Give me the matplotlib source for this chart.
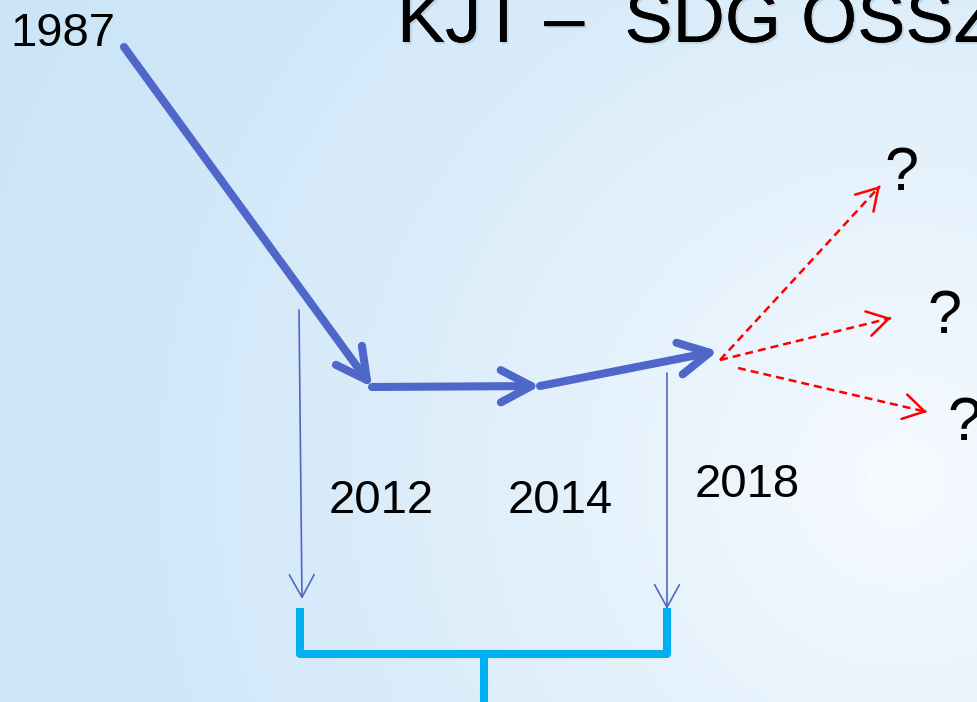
import numpy as np
import matplotlib.pyplot as plt
import matplotlib.patches as patches
import matplotlib.patheffects as pe

W, H = 977, 702

TITLE = "KJT –  SDG OSSZEFÜGGÉSEK"
START_YEAR = "1987"
YEARS = ["2012", "2014", "2018"]
OUTCOMES = ["?", "?", "?"]

# timeline path (pixel coords, y down)
MAIN_PATH = [(124, 47), (372, 387), (540, 386), (718, 351)]
YEAR_POS = [(329, 513), (508, 513), (695, 497)]

# thin feeder arrows and the bracket below them
FEED_ARROWS = [((299, 310), (302, 599)), ((667, 373), (667, 609))]
BRACKET_X = (300, 667)
BRACKET_TOP, BRACKET_Y = 608, 654
STEM_X = 484

# dashed "future" branches
BRANCH_START = [(720, 360), (720, 360), (738, 368)]
BRANCH_END = [(880, 186), (891, 318), (927, 412)]
QMARK_POS = [(901, 190), (944, 333), (964, 440)]

BLUE = "#4e67c8"
CYAN = "#00b0f0"
RED = "#ff0000"


def background(ax):
  yy, xx = np.mgrid[0:H, 0:W]
  d = np.hypot(xx - 900, yy - 480)
  t = np.clip(1 - d / 950, 0, 1) ** 1.3
  c0 = np.array([0.80, 0.898, 0.972])
  c1 = np.array([0.965, 0.982, 0.998])
  img = c0[None, None, :] * (1 - t[..., None]) + c1[None, None, :] * t[..., None]
  ax.imshow(img, extent=[0, W, H, 0], zorder=0, interpolation="bilinear")
  ax.add_patch(patches.Circle((888, 470), 22, fc="white", ec="none", alpha=0.35, zorder=1))


def arrow(ax, a, b, color, lw, hl, hw, ms=20, ls="-"):
  style = "->,head_length=%g,head_width=%g" % (hl, hw)
  p = patches.FancyArrowPatch(
    a, b, arrowstyle=style, mutation_scale=ms, color=color, lw=lw,
    shrinkA=0, shrinkB=0, capstyle="round", joinstyle="round", ls=ls, zorder=4,
  )
  ax.add_patch(p)


def dashed_arrow(ax, a, b, color):
  ax.plot([a[0], b[0]], [a[1], b[1]], color=color, lw=1.8,
          ls=(0, (3.2, 2.0)), zorder=4)
  v = np.array(b, float) - np.array(a, float)
  v /= np.hypot(*v)
  tail = (b[0] - v[0] * 2, b[1] - v[1] * 2)
  arrow(ax, tail, b, color, 1.8, 0.75, 0.45)


def draw(outfile="out.png"):
  fig = plt.figure(figsize=(W / 100, H / 100), dpi=100)
  ax = fig.add_axes([0, 0, 1, 1])
  ax.set_xlim(0, W)
  ax.set_ylim(H, 0)
  ax.axis("off")
  background(ax)

  shadow = [pe.withSimplePatchShadow(offset=(1.5, -1.5), shadow_rgbFace="#8090a0", alpha=0.25), pe.Normal()]
  ax.text(397, 42, TITLE, fontsize=52, family="Liberation Sans", va="baseline",
          ha="left", color="black", path_effects=shadow, zorder=5)
  ax.text(10, 46, START_YEAR, fontsize=34, family="Liberation Sans",
          va="baseline", ha="left", zorder=5)

  # thick timeline arrows
  for a, b in zip(MAIN_PATH[:-1], MAIN_PATH[1:]):
    arrow(ax, a, b, BLUE, 5.8, 1.1, 0.58)

  for (x, y), label in zip(YEAR_POS, YEARS):
    ax.text(x, y, label, fontsize=34, family="Liberation Sans",
            va="baseline", ha="left", zorder=5)

  # feeder arrows
  for a, b in FEED_ARROWS:
    arrow(ax, a, b, BLUE, 1.2, 0.6, 0.33, ms=27)

  # bracket
  x0, x1 = BRACKET_X
  ax.plot([x0, x0, x1, x1], [BRACKET_TOP, BRACKET_Y, BRACKET_Y, BRACKET_TOP],
          color=CYAN, lw=5.8, solid_joinstyle="round", solid_capstyle="butt", zorder=3)
  ax.plot([STEM_X, STEM_X], [BRACKET_Y, H + 5], color=CYAN, lw=5.8,
          solid_capstyle="butt", zorder=3)

  # future branches
  for a, b in zip(BRANCH_START, BRANCH_END):
    dashed_arrow(ax, a, b, RED)
  for (x, y), q in zip(QMARK_POS, OUTCOMES):
    ax.text(x, y, q, fontsize=44, family="Liberation Sans", va="baseline",
            ha="center", zorder=5)

  fig.savefig(outfile, dpi=100)
  plt.close(fig)


if __name__ == "__main__":
  draw("out.png")
